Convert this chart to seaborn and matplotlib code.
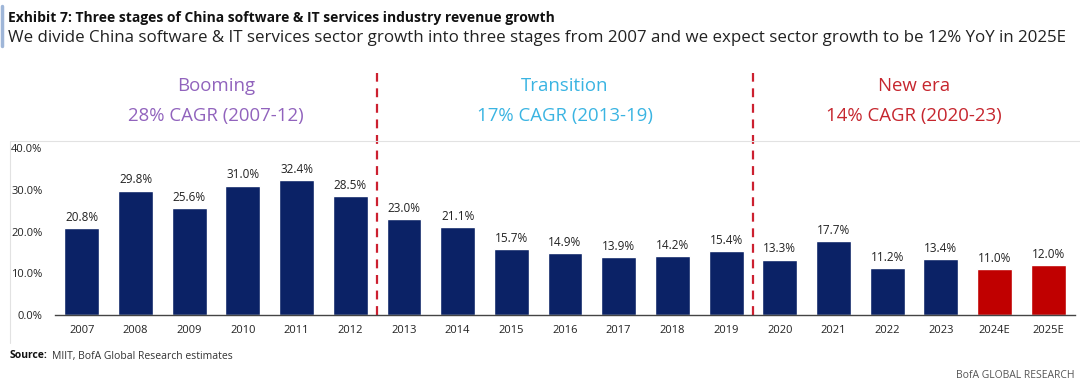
import pandas as pd
import seaborn as sns
import matplotlib.pyplot as plt
from matplotlib.lines import Line2D

years = ['2007', '2008', '2009', '2010', '2011', '2012', '2013', '2014', '2015', '2016',
         '2017', '2018', '2019', '2020', '2021', '2022', '2023', '2024E', '2025E']
growth = [20.8, 29.8, 25.6, 31.0, 32.4, 28.5, 23.0, 21.1, 15.7, 14.9,
          13.9, 14.2, 15.4, 13.3, 17.7, 11.2, 13.4, 11.0, 12.0]
kind = ['Actual'] * 17 + ['Estimate'] * 2

stage_names = ['Booming', 'Transition', 'New era']
stage_cagr = ['28% CAGR (2007-12)', '17% CAGR (2013-19)', '14% CAGR (2020-23)']
stage_first = ['2007', '2013', '2020']
stage_last = ['2012', '2019', '2023']
stage_colors = ['#9163bd', '#3ab4e2', '#c6262e']

navy = '#0b2266'
red = '#c00000'

df = pd.DataFrame({'year': years, 'growth': growth, 'kind': kind})

sns.set_style('white')
plt.rcParams['font.family'] = ['Open Sans', 'DejaVu Sans']

fig = plt.figure(figsize=(10.8, 3.82), dpi=100)
ax = fig.add_axes([55 / 1080, 67 / 382, 1020 / 1080, 242 / 382])

sns.barplot(data=df, x='year', y='growth', hue='kind', palette={'Actual': navy, 'Estimate': red},
            dodge=False, width=0.65, saturation=1, legend=False, ax=ax)

for c in ax.containers:
    ax.bar_label(c, fmt='%.1f%%', padding=3, fontsize=8.5, color='#222222')

ax.set_xlim(-0.5, len(years) - 0.5)
ax.set_ylim(0, 58)
ax.set_yticks([0, 10, 20, 30, 40])
ax.set_yticklabels([f'{v:.1f}%' for v in [0, 10, 20, 30, 40]])
ax.tick_params(axis='y', length=0, pad=9, labelsize=8, labelcolor='#222222')
ax.tick_params(axis='x', length=0, pad=7, labelsize=8, labelcolor='#222222')
ax.set_xlabel('')
ax.set_ylabel('')
for s in ['top', 'right', 'left']:
    ax.spines[s].set_visible(False)
ax.spines['bottom'].set_color('#444444')
ax.spines['bottom'].set_linewidth(1)

# stage dividers and headings
for i in range(len(stage_names)):
    a = years.index(stage_first[i])
    b = years.index(stage_last[i])
    if i > 0:
        ax.vlines(a - 0.5, 0, 58, colors='#cc2030', linestyles=(0, (4, 3)), linewidth=1.6)
    mid = (a + b) / 2 if i < 2 else (a + len(years) - 1) / 2
    ax.text(mid, 55.0, stage_names[i], ha='center', va='center', fontsize=13.4, color=stage_colors[i])
    ax.text(mid, 47.6, stage_cagr[i], ha='center', va='center', fontsize=13.4, color=stage_colors[i])

# panel frame
fig.add_artist(Line2D([10 / 1080, 1], [1 - 141 / 382, 1 - 141 / 382], color='#e2e2e2', linewidth=0.8))
fig.add_artist(Line2D([10 / 1080, 10 / 1080], [1 - 141 / 382, 1 - 343 / 382], color='#e2e2e2', linewidth=0.8))
fig.add_artist(Line2D([2 / 1080, 2 / 1080], [1 - 6 / 382, 1 - 46 / 382], color='#9fb6d8', linewidth=2.5))

fig.text(8 / 1080, 1 - 18 / 382, 'Exhibit 7: Three stages of China software & IT services industry revenue growth',
         fontsize=10, fontweight='bold', va='center', color='#111111')
fig.text(8 / 1080, 1 - 38 / 382,
         'We divide China software & IT services sector growth into three stages from 2007 and we expect sector growth to be 12% YoY in 2025E',
         fontsize=12.2, va='center', color='#222222')
fig.text(10 / 1080, 1 - 356 / 382, 'Source:', fontsize=7.5, fontweight='bold', va='center', color='#111111')
fig.text(52 / 1080, 1 - 356 / 382, 'MIIT, BofA Global Research estimates', fontsize=7.5, va='center', color='#333333')
fig.text(1075 / 1080, 1 - 375 / 382, 'BofA GLOBAL RESEARCH', fontsize=7.5, ha='right', va='center', color='#555555')

plt.savefig('out.png', dpi=100)
